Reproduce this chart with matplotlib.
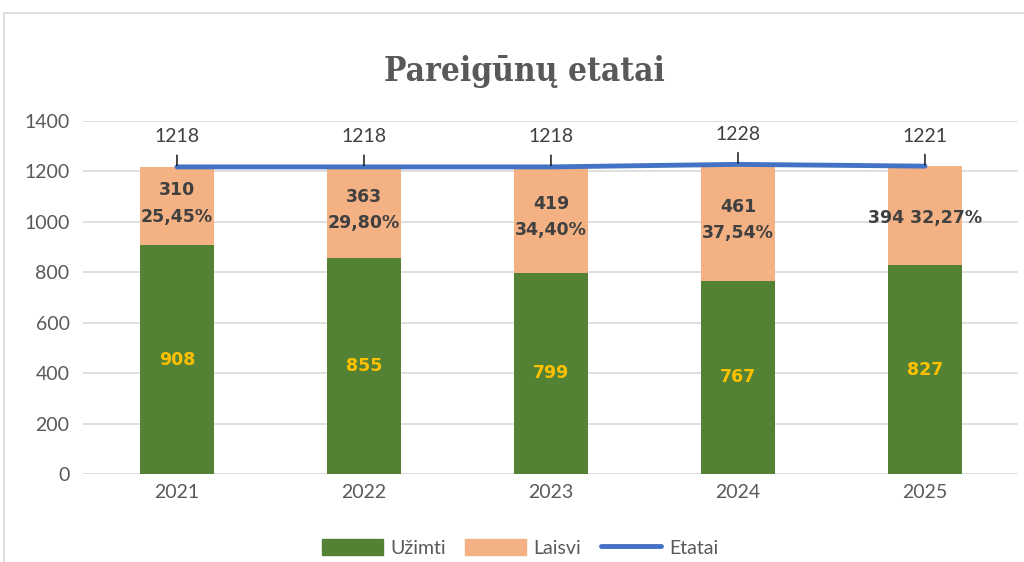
import matplotlib.pyplot as plt
from matplotlib.patches import Rectangle, Patch
from matplotlib.lines import Line2D

years = ['2021', '2022', '2023', '2024', '2025']
uzimti = [908, 855, 799, 767, 827]
laisvi = [310, 363, 419, 461, 394]
etatai = [1218, 1218, 1218, 1228, 1221]
laisvi_pct = ['25,45%', '29,80%', '34,40%', '37,54%', '32,27%']

green = '#548235'
orange = '#F4B183'
blue = '#4472C4'
gray = '#595959'

plt.rcParams['font.family'] = ['Lato', 'DejaVu Sans']
bold_font = ['DejaVu Sans']

fig = plt.figure(figsize=(10.24, 5.62), dpi=100)
fig.patches.append(Rectangle((4 / 1024, -0.1), 1.2, 1 - 13 / 562 + 0.1, transform=fig.transFigure,
                             fill=False, edgecolor='#d9d9d9', lw=1.2))
ax = fig.add_axes([0.0815, 0.1566, 0.9131, 0.6281])

x = list(range(len(years)))
ax.bar(x, uzimti, width=0.4, color=green, zorder=2)
ax.bar(x, laisvi, width=0.4, bottom=uzimti, color=orange, zorder=2)
ax.plot(x, etatai, color=blue, lw=3.5, solid_capstyle='round', zorder=3)

for i in x:
    ax.text(i, uzimti[i] / 2, str(uzimti[i]), ha='center', va='center', color='#FFC000',
            fontsize=12.5, fontweight='bold', family=bold_font, zorder=4)
    mid = uzimti[i] + laisvi[i] / 2
    if i == 4:
        ax.text(i, mid - 8, f'{laisvi[i]} {laisvi_pct[i]}', ha='center', va='center',
                color='#404040', fontsize=12.5, fontweight='bold', family=bold_font, zorder=4)
    else:
        ax.text(i, mid + 10, f'{laisvi[i]}\n{laisvi_pct[i]}', ha='center', va='center',
                color='#404040', fontsize=12.5, fontweight='bold', family=bold_font,
                linespacing=1.6, zorder=4)
    ax.annotate(str(etatai[i]), xy=(i, etatai[i]), xytext=(0, 30), textcoords='offset pixels',
                ha='center', va='center', color='#404040', fontsize=14,
                arrowprops=dict(arrowstyle='-', color='black', lw=1, shrinkA=5, shrinkB=1),
                zorder=4)

ax.set_xlim(-0.5, 4.5)
ax.set_ylim(0, 1400)
ax.set_yticks(range(0, 1401, 200))
ax.set_xticks(x)
ax.set_xticklabels(years)
ax.grid(axis='y', color='#d9d9d9', lw=1.2, zorder=0)
for s in ax.spines.values():
    s.set_visible(False)
ax.tick_params(length=0, labelsize=14, labelcolor=gray, pad=7)
ax.tick_params(axis='y', pad=10)

fig.text(0.512, 0.872, 'Pareigūnų etatai', ha='center', va='center', fontsize=24,
         fontweight='bold', color=gray, family=['DejaVu Serif', 'DejaVu Sans'], stretch='condensed')

handles = [Patch(color=green, label='Užimti'), Patch(color=orange, label='Laisvi'),
           Line2D([0], [0], color=blue, lw=3.5, solid_capstyle='round', label='Etatai')]
fig.legend(handles=handles, loc='center', bbox_to_anchor=(0.508, 0.025), ncol=3, frameon=False,
           fontsize=14, labelcolor=gray, handlelength=3.1, handleheight=0.9, columnspacing=1.0,
           handletextpad=0.4)

fig.savefig('out.png', dpi=100)
